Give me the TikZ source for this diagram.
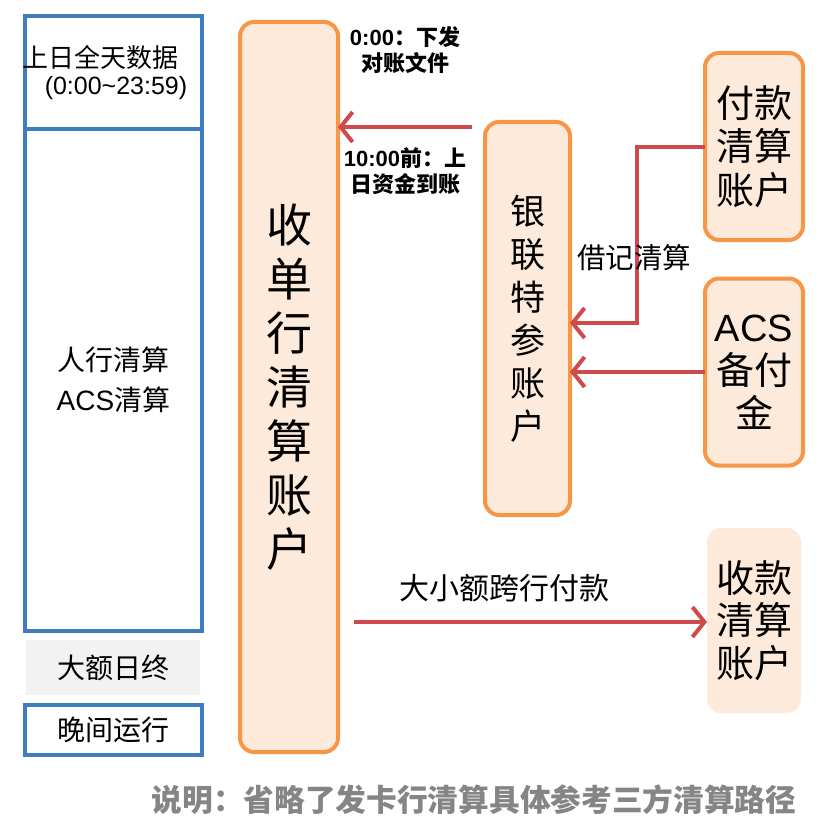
\documentclass[tikz,border=0pt]{standalone}
\usepackage{fontspec}
\setmainfont{Noto Sans CJK SC}
\newfontfamily\latin{Liberation Sans}
\usetikzlibrary{arrows.meta}
\definecolor{bblue}{HTML}{3F7EBE}
\definecolor{oborder}{HTML}{F79646}
\definecolor{ofill}{HTML}{FDEADA}
\definecolor{rline}{HTML}{CF4A4C}
\definecolor{gbox}{HTML}{F2F2F2}
\definecolor{gtext}{HTML}{858585}
\begin{document}
\begin{tikzpicture}[x=1pt,y=-1pt,
  every node/.style={inner sep=0pt,outer sep=0pt},
  bluebox/.style={draw=bblue,line width=4pt,minimum width=177pt},
  acct/.style={draw=oborder,fill=ofill,line width=4pt,rounded corners=14pt,align=center},
  flow/.style={draw=rline,line width=4pt,-{Straight Barb[length=12pt,width=30pt]}},
  lbl/.style={font=\bfseries\fontsize{22}{26}\selectfont,align=center},
  boxtext/.style={font=\fontsize{28}{40}\selectfont,align=center},
]
\useasboundingbox (0,0) rectangle (818,840);

% left column
\node[bluebox,minimum height=113pt] (topbox) at (113.5,72.5) {};
\node[font=\fontsize{26}{30}\selectfont] (t1) at (100,58) {上日全天数据};
\node[font=\latin\fontsize{25}{30}\selectfont] (t2) at (116,88) {(0:00\textasciitilde 23:59)};
\node[bluebox,minimum height=502pt,boxtext] (pboc) at (113.5,380) {人行清算\\{\latin ACS}清算};
\node[fill=gbox,minimum width=174pt,minimum height=55pt,boxtext] (daye) at (113,667.5) {大额日终};
\node[bluebox,minimum height=50pt,boxtext] (night) at (113.5,730) {晚间运行};

% accounts
\node[acct,minimum width=98pt,minimum height=730pt,font=\fontsize{46}{54}\selectfont] (big) at (289,387)
  {收\\单\\行\\清\\算\\账\\户};
\node[acct,minimum width=85pt,minimum height=393pt,font=\fontsize{35}{43}\selectfont] (yl) at (527.5,318.5)
  {银\\联\\特\\参\\账\\户};
\node[acct,minimum width=98pt,minimum height=187pt,font=\fontsize{38}{43.5}\selectfont] (fk) at (754,146.5)
  {付款\\清算\\账户};
\node[acct,minimum width=98pt,minimum height=187pt,font=\fontsize{38}{43}\selectfont] (acs) at (754,372)
  {{\latin ACS}\\备付\\金};
\node[acct,draw=none,minimum width=94pt,minimum height=185pt,font=\fontsize{38}{42.5}\selectfont] (sk) at (754,620.5)
  {收款\\清算\\账户};

% connectors
\coordinate (s1) at (472,127);
\draw[flow] (s1) -- (big.east |- s1);
\coordinate (j) at (637,323);
\draw[flow] (fk.west) -| (j) -- (yl.east |- j);
\draw[flow] (acs.west) -- (yl.east |- acs.west);
\coordinate (s4) at (354,622);
\draw[flow] (s4) -- (sk.west |- s4);

% labels
\node[lbl] (l1) at (405,50) {{\latin 0:00}：下发\\对账文件};
\node[lbl] (l2) at (405,171) {{\latin 10:00}前：上\\日资金到账};
\node[font=\fontsize{28.5}{30}\selectfont] (l3) at (634,258) {借记清算};
\node[font=\fontsize{30}{32}\selectfont] (l4) at (504,588) {大小额跨行付款};
\node[font=\bfseries\fontsize{30.7}{34}\selectfont,text=gtext] (note) at (474,800)
  {说明：省略了发卡行清算具体参考三方清算路径};
\end{tikzpicture}
\end{document}
